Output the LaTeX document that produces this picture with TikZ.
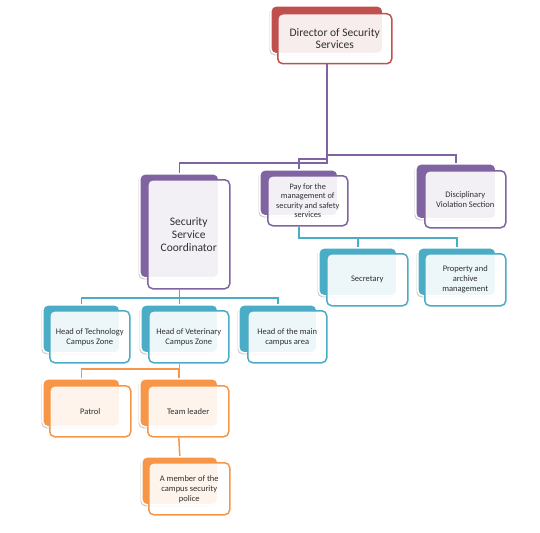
\documentclass[tikz,border=0pt]{standalone}
\usepackage{fontspec}
\setmainfont{Carlito}
\usetikzlibrary{shadows,backgrounds}
\definecolor{cred}{HTML}{C0504D}
\definecolor{cpurple}{HTML}{8064A2}
\definecolor{cblue}{HTML}{4BACC6}
\definecolor{corange}{HTML}{F79646}
\definecolor{txt}{HTML}{303030}
\tikzset{
  backbox/.style={rectangle, rounded corners=5pt, fill=#1, draw=white, line width=1.6pt, inner sep=0pt, anchor=north west,
    drop shadow={shadow xshift=-1.3pt, shadow yshift=-1.5pt, opacity=0.22, fill=black}},
  frontbox/.style={rectangle, rounded corners=5pt, draw=#1, line width=1.5pt, fill=white, fill opacity=0.9, text opacity=1,
    align=center, inner sep=2pt, anchor=north west, text=txt, font=\fontsize{8.5}{10}\selectfont},
  conn/.style={draw=#1, line width=1.5pt}
}
\begin{document}
\begin{tikzpicture}[x=1pt,y=-1pt]
\useasboundingbox (0,0) rectangle (540,532);
% junction levels
\coordinate (l1) at (0,155);
\coordinate (l2) at (0,159);
\coordinate (l3) at (0,163);
\coordinate (l4) at (0,238);
\coordinate (l5) at (0,298);
\coordinate (l6) at (0,369);

% back boxes
\node[backbox=cred, minimum width=112pt, minimum height=48pt] (dirb) at (270,5) {};
\node[backbox=cpurple, minimum width=79pt, minimum height=104pt] (coob) at (139,173) {};
\node[backbox=cpurple, minimum width=78pt, minimum height=46pt] (payb) at (259,169) {};
\node[backbox=cpurple, minimum width=80pt, minimum height=55pt] (disb) at (415,163) {};
\node[backbox=cblue, minimum width=78pt, minimum height=48pt] (secb) at (318,247) {};
\node[backbox=cblue, minimum width=78pt, minimum height=48pt] (prob) at (417,247) {};
\node[backbox=cblue, minimum width=77pt, minimum height=48pt] (htb) at (42,304) {};
\node[backbox=cblue, minimum width=77pt, minimum height=48pt] (hvb) at (140,304) {};
\node[backbox=cblue, minimum width=78pt, minimum height=48pt] (hmb) at (238,304) {};
\node[backbox=corange, minimum width=77pt, minimum height=48pt] (patb) at (42,378) {};
\node[backbox=corange, minimum width=78pt, minimum height=48pt] (tlb) at (139,378) {};
\node[backbox=corange, minimum width=76pt, minimum height=48pt] (memb) at (141,456) {};

% front boxes
\node[frontbox=cred, minimum width=114pt, minimum height=50pt, font=\fontsize{11.5}{12.5}\selectfont] (dir) at (277,13) {Director of Security\\Services};
\node[frontbox=cpurple, minimum width=82pt, minimum height=109pt, font=\fontsize{11.5}{13}\selectfont] (coo) at (147,179) {Security\\Service\\Coordinator};
\node[frontbox=cpurple, minimum width=80pt, minimum height=50pt, font=\fontsize{8.3}{9.3}\selectfont] (pay) at (267,175) {Pay for the\\management of\\security and safety\\services};
\node[frontbox=cpurple, minimum width=81pt, minimum height=57pt] (dis) at (424,170) {Disciplinary\\Violation Section};
\node[frontbox=cblue, minimum width=81pt, minimum height=52pt] (sec) at (326,253) {Secretary};
\node[frontbox=cblue, minimum width=81pt, minimum height=52pt] (pro) at (424,253) {Property and\\archive\\management};
\node[frontbox=cblue, minimum width=80pt, minimum height=52pt] (ht) at (49,310) {Head of Technology\\Campus Zone};
\node[frontbox=cblue, minimum width=80pt, minimum height=52pt] (hv) at (148,310) {Head of Veterinary\\Campus Zone};
\node[frontbox=cblue, minimum width=79pt, minimum height=52pt] (hm) at (247,310) {Head of the main\\campus area};
\node[frontbox=corange, minimum width=81pt, minimum height=51pt] (pat) at (49,385) {Patrol};
\node[frontbox=corange, minimum width=81pt, minimum height=51pt] (tl) at (147,385) {Team leader};
\node[frontbox=corange, minimum width=81pt, minimum height=52pt] (mem) at (148,462) {A member of the\\campus security\\police};

% connectors (behind boxes)
\begin{scope}[on background layer]
\draw[conn=cpurple] (dirb.south |- dir.south) -- (dirb.south |- l1) -- (disb.north |- l1) -- (disb.north);
\draw[conn=cpurple] (dirb.south |- dir.south) -- (dirb.south |- l2) -- (payb.north |- l2) -- (payb.north);
\draw[conn=cpurple] (dirb.south |- dir.south) -- (dirb.south |- l3) -- (coob.north |- l3) -- (coob.north);
\draw[conn=cblue] (payb.south |- pay.south) -- (payb.south |- l4) -- (secb.north |- l4) -- (secb.north);
\draw[conn=cblue] (payb.south |- pay.south) -- (payb.south |- l4) -- (prob.north |- l4) -- (prob.north);
\draw[conn=cblue] (coob.south |- coo.south) -- (coob.south |- l5) -- (htb.north |- l5) -- (htb.north);
\draw[conn=cblue] (coob.south |- coo.south) -- (hvb.north);
\draw[conn=cblue] (coob.south |- coo.south) -- (coob.south |- l5) -- (hmb.north |- l5) -- (hmb.north);
\draw[conn=corange] (hvb.south |- hv.south) -- (hvb.south |- l6) -- (patb.north |- l6) -- (patb.north);
\draw[conn=corange] (hvb.south |- hv.south) -- (hvb.south |- l6) -- (tlb.north |- l6) -- (tlb.north);
\draw[conn=corange] (tlb.south |- tl.south) -- (memb.north);
\end{scope}
\end{tikzpicture}
\end{document}
